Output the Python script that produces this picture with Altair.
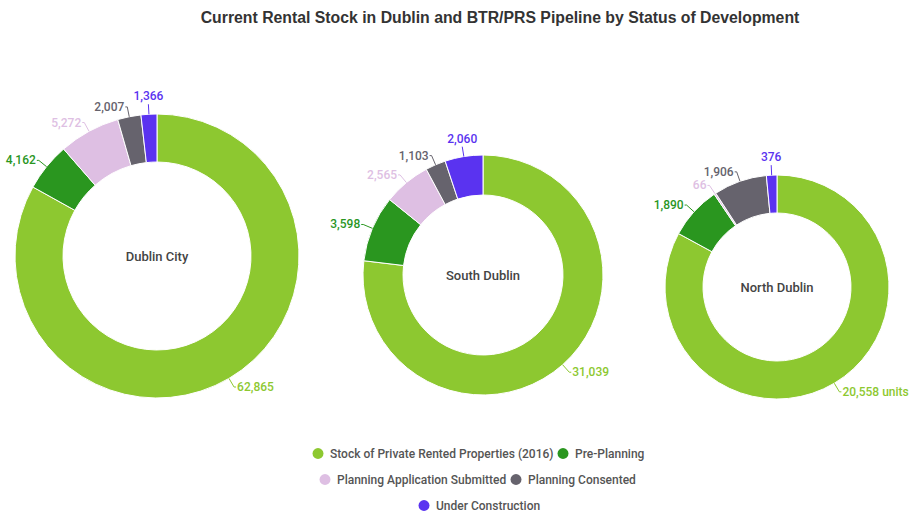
import altair as alt
import pandas as pd

# ---------------- data ----------------
TITLE = "Current Rental Stock in Dublin and BTR/PRS Pipeline by Status of Development"
STATUSES = [
    "Stock of Private Rented Properties (2016)",
    "Pre-Planning",
    "Planning Application Submitted",
    "Planning Consented",
    "Under Construction",
]
CITIES = ["Dublin City", "South Dublin", "North Dublin"]
dublin_city = [62865, 4162, 5272, 2007, 1366]
south_dublin = [31039, 3598, 2565, 1103, 2060]
north_dublin = [20558, 1890, 66, 1906, 376]
UNIT_SUFFIX = {"North Dublin": " units"}  # appended to the stock label

# ---------------- styles / layout ----------------
COLORS = ["#8DC830", "#2A961F", "#DEBFE3", "#66636D", "#5A33F0"]
LAYOUT = {
    "Dublin City": dict(cx=157, cy=256, R=142, r=94),
    "South Dublin": dict(cx=483, cy=275, R=120, r=80),
    "North Dublin": dict(cx=777, cy=287, R=112, r=74),
}
E = 10     # radial leader length
H = 3      # horizontal offset of label from elbow
TOP = 0.985
FONT = "Roboto"

rows = []
for city, vals in zip(CITIES, [dublin_city, south_dublin, north_dublin]):
    for i, (s, v) in enumerate(zip(STATUSES, vals)):
        label = f"{v:,}"
        if i == 0:
            label += UNIT_SUFFIX.get(city, "")
        rows.append(dict(city=city, status=s, order=i, value=v, label=label))
df = pd.DataFrame(rows)

color = alt.Color("status:N", scale=alt.Scale(domain=STATUSES, range=COLORS), legend=None)


def base(city):
    L = LAYOUT[city]
    cx, cy, R = L["cx"], L["cy"], L["R"]
    return (
        alt.Chart(df)
        .transform_filter(alt.datum.city == city)
        .transform_joinaggregate(total="sum(value)")
        .transform_window(cum="sum(value)", sort=[alt.SortField("order", order="ascending")], frame=[None, 0])
        .transform_calculate(
            t0="(datum.cum - datum.value) / datum.total",
            t1="datum.cum / datum.total",
        )
        .transform_calculate(a="PI * (datum.t0 + datum.t1)")
        .transform_calculate(sa="sin(datum.a)", ca="cos(datum.a)")
        .transform_calculate(
            px0=f"{cx} + {R} * datum.sa",
            py0=f"{cy} - {R} * datum.ca",
            px1=f"{cx} + {R + E} * datum.sa",
            py1=f"{cy} - {R + E} * datum.ca",
            top=f"datum.ca > {TOP}",
            side="datum.sa >= 0 ? 1 : -1",
        )
        .transform_calculate(
            hx=f"datum.top ? datum.px1 : datum.px1 + datum.side * {H - 1}",
            lx=f"datum.top ? datum.px1 : datum.px1 + datum.side * {H}",
            ly="datum.top ? datum.py1 - 1 : datum.py1",
        )
    )


X = lambda f: alt.X(f, scale=None, axis=None)
Y = lambda f: alt.Y(f, scale=None, axis=None)

layers = []
for city in CITIES:
    L = LAYOUT[city]
    b = base(city)
    layers.append(
        b.mark_arc(outerRadius=L["R"], innerRadius=L["r"], stroke="white", strokeWidth=1).encode(
            theta=alt.Theta("t0:Q", scale=alt.Scale(domain=[0, 1]), stack=None),
            theta2="t1:Q",
            color=color,
            x=alt.value(L["cx"]),
            y=alt.value(L["cy"]),
        )
    )
    layers.append(
        b.mark_rule(strokeWidth=1).encode(
            x=X("px0:Q"), y=Y("py0:Q"), x2="px1:Q", y2="py1:Q", color=color
        )
    )
    layers.append(
        b.transform_filter("!datum.top").mark_rule(strokeWidth=1).encode(
            x=X("px1:Q"), y=Y("py1:Q"), x2="hx:Q", y2="py1:Q", color=color
        )
    )
    txt = dict(font=FONT, fontSize=12, fontWeight=500)
    layers.append(
        b.transform_filter("!datum.top && datum.side < 0")
        .mark_text(align="right", baseline="middle", **txt)
        .encode(x=X("lx:Q"), y=Y("ly:Q"), text="label:N", color=color)
    )
    layers.append(
        b.transform_filter("!datum.top && datum.side > 0")
        .mark_text(align="left", baseline="middle", **txt)
        .encode(x=X("lx:Q"), y=Y("ly:Q"), text="label:N", color=color)
    )
    layers.append(
        b.transform_filter("datum.top")
        .mark_text(align="center", baseline="bottom", **txt)
        .encode(x=X("lx:Q"), y=Y("ly:Q"), text="label:N", color=color)
    )
    layers.append(
        alt.Chart(pd.DataFrame({"name": [city]}))
        .mark_text(font=FONT, fontSize=13, fontWeight=500, color="#444444", align="center", baseline="middle")
        .encode(x=alt.value(L["cx"]), y=alt.value(L["cy"] + 1), text="name:N")
    )

# title
layers.append(
    alt.Chart(pd.DataFrame({"t": [TITLE]}))
    .mark_text(font="Liberation Sans", fontSize=15.8, fontWeight="bold", color="#333333", align="center", baseline="middle")
    .encode(x=alt.value(500), y=alt.value(18), text="t:N")
)

# legend rows (three centred rows)
LEGEND_ROWS = [([0, 1], 312, 447.5), ([2, 3], 319, 473.5), ([4], 418, 499.5)]
for idx, lx, ly in LEGEND_ROWS:
    sts = [STATUSES[i] for i in idx]
    cols = [COLORS[i] for i in idx]
    layers.append(
        alt.Chart(pd.DataFrame({"status": sts}))
        .mark_circle(size=10, opacity=1)
        .encode(
            x=alt.value(-60),
            y=alt.value(-60),
            color=alt.Color(
                "status:N",
                scale=alt.Scale(domain=sts, range=cols),
                legend=alt.Legend(
                    orient="none", legendX=lx, legendY=ly, direction="horizontal",
                    columns=len(idx), title=None, symbolType="circle", symbolSize=120,
                    symbolStrokeWidth=0, symbolOpacity=1, labelFont=FONT, labelFontSize=12, labelFontWeight=500,
                    labelColor="#555555", labelLimit=400, columnPadding=3, padding=0, labelOffset=6,
                ),
            ),
        )
    )

chart = (
    alt.layer(*layers)
    .properties(width=909, height=511, padding=0, autosize=alt.AutoSizeParams(type="none"))
    .resolve_scale(color="independent")
    .configure_view(stroke=None)
)

chart.save("out.html", embed_options={"renderer": "svg", "actions": False})
